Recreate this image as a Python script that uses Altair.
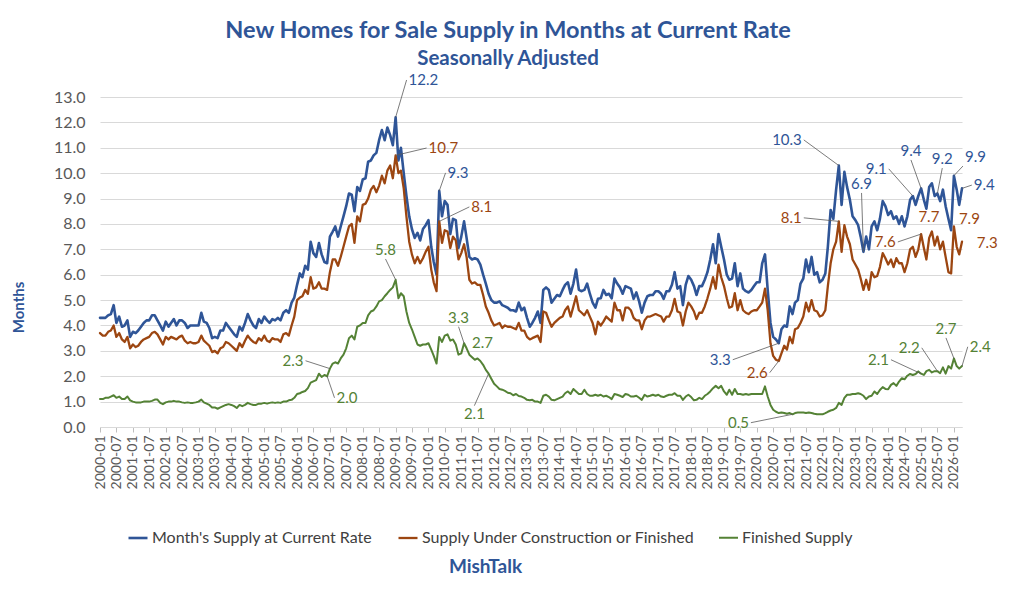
import altair as alt
import pandas as pd

FONT = "Lato"
TITLE_BLUE = "#2F5597"

SERIES = ["Month's Supply at Current Rate",
          "Supply Under Construction or Finished",
          "Finished Supply"]
COLORS = ["#2F5597", "#9C4611", "#548235"]
WIDTHS = [2.6, 2.0, 1.8]
START_MONTH = "2000-01-01T00:00:00"

TICK_LABELS = [
    "2000-01", "2000-07", "2001-01", "2001-07", "2002-01", "2002-07", "2003-01", "2003-07",
    "2004-01", "2004-07", "2005-01", "2005-07", "2006-01", "2006-07", "2007-01", "2007-07",
    "2008-01", "2008-07", "2009-01", "2009-07", "2010-01", "2010-07", "2011-01", "2011-07",
    "2012-01", "2012-07", "2013-01", "2013-07", "2014-01", "2014-07", "2015-01", "2015-07",
    "2016-01", "2016-07", "2017-01", "2017-07", "2018-01", "2018-07", "2019-01", "2019-07",
    "2020-01", "2020-07", "2021-01", "2021-07", "2022-01", "2022-07", "2023-01", "2023-07",
    "2024-01", "2024-07", "2025-01", "2025-07", "2026-01",
]
Y_TICKS = [0, 1, 2, 3, 4, 5, 6, 7, 8, 9, 10, 11, 12, 13]

# Monthly values, 2000-01 onward (one row per year)
SUPPLY_CURRENT_RATE = [
    4.3, 4.3, 4.3, 4.4, 4.45, 4.8, 4.1, 4.35, 3.95, 4.0, 4.2, 3.55,
    3.75, 3.7, 3.8, 3.95, 4.1, 4.2, 4.2, 4.4, 4.4, 4.2, 4.0, 3.8,
    4.15, 3.95, 4.1, 4.25, 4.0, 4.2, 4.2, 4.1, 3.9, 4.0, 4.0, 4.0,
    4.0, 4.5, 4.15, 4.1, 3.9, 3.5, 3.55, 3.5, 3.8, 3.8, 4.1, 3.95,
    3.8, 3.65, 3.55, 3.95, 3.8, 4.1, 4.45, 4.2, 4.0, 3.9, 4.25, 4.1,
    4.35, 4.2, 4.1, 4.25, 4.2, 4.3, 4.2, 4.5, 4.6, 4.5, 4.9, 5.1,
    5.6, 6.05, 5.9, 6.35, 6.2, 7.3, 6.85, 6.7, 7.25, 6.8, 6.5, 6.45,
    7.5, 7.7, 7.9, 7.5, 7.9, 8.3, 8.7, 9.2, 9.15, 8.5, 9.45, 9.3,
    9.75, 9.8, 10.45, 10.5, 10.7, 10.8, 11.3, 11.7, 11.3, 11.8, 11.5, 11.1,
    12.2, 10.5, 11.0, 10.0, 9.1, 8.3, 7.8, 7.45, 7.65, 7.35, 7.8, 7.95,
    8.15, 7.1, 6.5, 6.0, 9.3, 8.3, 8.9, 8.75, 7.6, 8.2, 8.15, 7.05,
    7.5, 8.1, 7.45, 6.7, 6.6, 6.65, 6.6, 6.4, 6.0, 5.65, 5.25, 5.0,
    4.9, 4.9, 4.95, 4.8, 4.75, 4.7, 4.6, 4.6, 4.55, 4.9, 4.6, 4.7,
    4.3, 3.95, 4.1, 4.3, 4.55, 4.1, 5.4, 5.5, 5.4, 4.9, 5.05, 5.2,
    5.15, 5.4, 5.6, 5.7, 5.25, 5.65, 6.2, 5.4, 5.35, 5.4, 5.65, 5.25,
    4.9, 4.7, 5.05, 5.07, 5.4, 5.2, 5.25, 5.07, 5.85, 5.65, 5.5, 5.25,
    5.55, 5.5, 5.45, 5.05, 5.3, 4.95, 4.5, 4.9, 5.15, 5.2, 5.2, 5.35,
    5.35, 5.25, 5.05, 5.35, 5.35, 5.6, 6.1, 5.45, 5.55, 4.8, 5.6, 5.95,
    5.8, 5.55, 5.2, 5.55, 5.55, 5.8, 6.1, 6.6, 7.2, 6.45, 7.6, 7.1,
    6.6, 6.0, 5.8, 5.85, 6.45, 5.55, 6.05, 5.45, 5.35, 5.3, 5.4, 5.55,
    5.7, 5.7, 6.45, 6.8, 5.4, 4.1, 3.55, 3.45, 3.3, 3.85, 4.0, 3.95,
    4.75, 4.45, 4.9, 5.0, 5.65, 5.85, 6.6, 6.1, 6.7, 6.0, 6.1, 5.7,
    5.8, 6.05, 7.1, 8.55, 8.2, 9.35, 10.3, 8.75, 10.05, 9.45, 8.95, 8.3,
    8.15, 7.95, 7.5, 6.9, 7.5, 7.0, 7.9, 8.1, 7.75, 8.2, 8.9, 8.7,
    8.35, 8.5, 8.2, 8.3, 8.0, 8.3, 7.9, 8.3, 8.95, 9.1, 8.75, 9.1,
    9.4, 8.95, 8.6, 9.45, 9.6, 9.1, 9.2, 8.9, 9.35, 8.7, 8.2, 7.75,
    9.9, 9.35, 8.75, 9.4,
]

SUPPLY_UNDER_CONSTRUCTION_OR_FINISHED = [
    3.7, 3.6, 3.6, 3.75, 3.8, 4.0, 3.55, 3.7, 3.45, 3.35, 3.55, 3.1,
    3.25, 3.15, 3.2, 3.35, 3.45, 3.5, 3.55, 3.7, 3.75, 3.65, 3.45, 3.25,
    3.55, 3.45, 3.55, 3.5, 3.45, 3.55, 3.6, 3.4, 3.3, 3.35, 3.3, 3.3,
    3.35, 3.6, 3.4, 3.3, 3.2, 2.95, 3.0, 2.9, 3.1, 3.15, 3.35, 3.3,
    3.2, 3.1, 3.0, 3.3, 3.15, 3.4, 3.6, 3.45, 3.35, 3.3, 3.5, 3.4,
    3.6, 3.4, 3.35, 3.5, 3.45, 3.45, 3.35, 3.65, 3.7, 3.6, 4.0, 4.35,
    5.0, 5.1, 5.15, 5.4, 5.25, 5.9, 5.45, 5.5, 5.7, 5.45, 5.45, 5.4,
    6.1, 6.6, 6.6, 6.35, 6.7, 7.1, 7.5, 7.9, 8.0, 7.25, 8.3, 8.1,
    8.75, 8.8, 9.0, 9.35, 9.5, 9.25, 9.5, 9.9, 9.6, 10.1, 10.3, 9.8,
    10.7, 10.0, 10.1, 9.4, 8.3, 7.3, 6.8, 6.45, 6.7, 6.45, 6.65, 6.9,
    7.1, 6.2, 5.7, 5.35, 8.1, 7.25, 7.75, 7.7, 7.05, 7.5, 7.35, 6.6,
    6.85, 7.2, 6.7, 5.8, 5.65, 5.7, 5.6, 5.6, 5.2, 4.75, 4.5, 4.2,
    4.0, 4.05, 4.1, 3.9, 4.0, 3.95, 3.95, 3.9, 3.85, 4.1, 3.8, 3.8,
    3.55, 3.45, 3.5, 3.55, 3.6, 3.35, 4.55, 4.5, 4.2, 3.95, 4.1, 4.2,
    4.3, 4.35, 4.6, 4.75, 4.35, 4.75, 5.15, 4.6, 4.5, 4.4, 4.6, 4.35,
    4.1, 3.65, 4.15, 4.0, 4.15, 4.35, 4.25, 4.15, 4.9, 4.6, 4.6, 4.2,
    4.7, 4.7, 4.6, 4.3, 4.2, 4.2, 3.85, 4.2, 4.35, 4.35, 4.4, 4.45,
    4.4, 4.35, 4.15, 4.35, 4.35, 4.6, 5.05, 4.55, 4.5, 4.0, 4.55, 4.9,
    4.75, 4.55, 4.25, 4.5, 4.5, 4.75, 5.07, 5.45, 5.9, 5.45, 6.4, 5.9,
    5.55, 5.07, 4.7, 4.75, 5.27, 4.6, 5.0, 4.6, 4.5, 4.45, 4.55, 4.6,
    4.6, 4.75, 4.9, 5.45, 4.6, 3.3, 2.8, 2.65, 2.6, 2.9, 3.2, 3.05,
    3.55, 3.3, 3.85, 3.9, 4.1, 4.35, 4.9, 4.55, 5.0, 4.6, 4.55, 4.35,
    4.4, 4.6, 5.55, 6.45, 7.0, 7.3, 8.1, 6.9, 7.95, 7.5, 7.2, 6.6,
    6.4, 6.2, 5.85, 5.4, 5.8, 5.4, 6.1, 5.9, 5.95, 6.3, 6.85, 6.65,
    6.4, 6.6, 6.3, 6.65, 6.45, 6.45, 6.1, 6.45, 7.0, 7.1, 6.7, 7.0,
    7.6, 7.05, 6.6, 7.45, 7.7, 7.15, 7.5, 7.0, 7.3, 6.7, 6.1, 6.05,
    7.9, 7.1, 6.8, 7.3,
]

SUPPLY_FINISHED = [
    1.1, 1.1, 1.15, 1.15, 1.2, 1.25, 1.15, 1.2, 1.1, 1.1, 1.2, 1.05,
    1.0, 0.97, 0.97, 0.97, 1.0, 1.0, 1.0, 1.03, 1.08, 1.08, 0.95, 0.9,
    0.97, 1.0, 1.0, 1.03, 1.0, 1.0, 0.97, 0.95, 0.97, 0.95, 0.95, 0.97,
    1.0, 1.08, 0.97, 0.92, 0.87, 0.77, 0.77, 0.72, 0.77, 0.82, 0.87, 0.9,
    0.87, 0.82, 0.75, 0.87, 0.82, 0.87, 0.95, 0.9, 0.87, 0.87, 0.92, 0.92,
    0.95, 0.92, 0.95, 0.97, 0.95, 0.97, 0.95, 1.0, 1.0, 1.05, 1.07, 1.15,
    1.3, 1.33, 1.38, 1.42, 1.53, 1.75, 1.8, 1.85, 2.1, 1.97, 2.05, 2.0,
    2.3, 2.5, 2.55, 2.5, 2.7, 2.85, 3.1, 3.5, 3.6, 3.45, 3.95, 4.0,
    4.1, 4.1, 4.4, 4.55, 4.6, 4.75, 4.95, 5.0, 5.15, 5.27, 5.4, 5.5,
    5.8, 5.07, 5.27, 5.15, 4.55, 4.1, 3.85, 3.55, 3.25, 3.2, 3.25, 3.25,
    3.3, 3.05, 2.8, 2.5, 3.55, 3.35, 3.6, 3.65, 3.4, 3.45, 3.25, 2.85,
    2.9, 3.3, 3.1, 2.85, 2.75, 2.65, 2.7, 2.6, 2.45, 2.25, 2.1, 1.9,
    1.7, 1.6, 1.5, 1.47, 1.42, 1.35, 1.33, 1.25, 1.3, 1.22, 1.2, 1.15,
    1.07, 1.05, 1.07, 1.0, 1.0, 0.95, 1.23, 1.27, 1.2, 1.07, 1.05, 1.1,
    1.15, 1.2, 1.33, 1.4, 1.3, 1.5, 1.4, 1.3, 1.3, 1.47, 1.3, 1.23,
    1.23, 1.27, 1.23, 1.27, 1.2, 1.23, 1.18, 1.1, 1.3, 1.27, 1.23, 1.18,
    1.3, 1.27, 1.2, 1.2, 1.23, 1.15, 1.07, 1.27, 1.2, 1.23, 1.27, 1.23,
    1.27, 1.2, 1.18, 1.23, 1.27, 1.27, 1.33, 1.23, 1.23, 1.07, 1.2, 1.27,
    1.18, 1.05, 1.07, 1.15, 1.1, 1.23, 1.3, 1.4, 1.53, 1.62, 1.53, 1.62,
    1.4, 1.27, 1.47, 1.27, 1.5, 1.3, 1.3, 1.27, 1.3, 1.27, 1.3, 1.3,
    1.3, 1.3, 1.3, 1.6, 1.2, 0.87, 0.68, 0.6, 0.55, 0.57, 0.55, 0.52,
    0.55, 0.5, 0.55, 0.57, 0.57, 0.57, 0.55, 0.57, 0.55, 0.52, 0.5, 0.5,
    0.5, 0.55, 0.6, 0.65, 0.68, 0.75, 0.95, 0.87, 1.15, 1.27, 1.27, 1.3,
    1.3, 1.33, 1.3, 1.23, 1.1, 1.2, 1.23, 1.4, 1.3, 1.46, 1.57, 1.5,
    1.49, 1.66, 1.73, 1.62, 1.79, 1.92, 1.88, 2.02, 2.09, 2.05, 2.09, 2.19,
    2.1, 2.05, 2.2, 2.25, 2.15, 2.2, 2.2, 2.12, 2.35, 2.1, 2.4, 2.3,
    2.7, 2.4, 2.3, 2.4,
]

# Labelled points: (series index, month index counted from 2000-01)
ANNOT_POINTS = [
    (0, 108), (1, 108), (0, 124), (1, 124), (2, 108), (2, 84), (2, 83),
    (2, 133), (2, 138), (2, 142), (0, 270), (1, 270), (0, 248), (1, 248),
    (2, 253), (0, 279), (0, 297), (0, 300), (0, 306), (0, 312), (0, 315),
    (1, 304), (1, 300), (1, 312), (1, 315), (2, 300), (2, 306), (2, 312),
    (2, 315),
]
# Label placement: (months offset, value offset, align, baseline, leader line)
ANNOT_PLACE = [
    (4.0, 1.47, "left", "middle", True),
    (11.3, 0.29, "left", "middle", True),
    (2.3, 0.71, "left", "middle", True),
    (11.0, 0.57, "left", "middle", True),
    (-3.7, 0.82, "center", "bottom", True),
    (-8.9, 0.31, "right", "middle", True),
    (2.7, -0.85, "left", "middle", True),
    (-2.0, 0.65, "center", "bottom", True),
    (1.8, 0.26, "center", "bottom", False),
    (-5.2, -1.26, "center", "top", True),
    (-12.8, 1.01, "right", "middle", True),
    (-12.8, 0.14, "right", "middle", True),
    (-16.8, -0.65, "right", "middle", True),
    (-3.3, -0.46, "right", "middle", True),
    (-15.2, -0.33, "right", "middle", True),
    (-0.7, 2.32, "center", "bottom", True),
    (-8.8, 1.07, "right", "middle", True),
    (-3.7, 1.12, "center", "bottom", True),
    (1.8, 1.0, "center", "bottom", True),
    (3.3, 0.38, "left", "bottom", True),
    (3.6, 0.13, "left", "middle", True),
    (-1.1, 0.22, "center", "bottom", False),
    (-8.5, -0.31, "right", "middle", True),
    (1.1, 0.3, "left", "middle", False),
    (4.7, -0.05, "left", "middle", False),
    (-11.0, 0.55, "right", "middle", True),
    (-5.7, 0.92, "right", "middle", True),
    (-2.9, 0.81, "center", "bottom", True),
    (2.1, 0.76, "left", "middle", True),
]

VALUES = [SUPPLY_CURRENT_RATE, SUPPLY_UNDER_CONSTRUCTION_OR_FINISHED, SUPPLY_FINISHED]
n_months = len(SUPPLY_CURRENT_RATE)
dates = pd.date_range(START_MONTH, periods=n_months, freq="MS")

rows = []
for name, vals in zip(SERIES, VALUES):
    for d, v in zip(dates, vals):
        rows.append({"date": d, "series": name, "value": v})
df = pd.DataFrame(rows)

# annotation table: "date"/"value" = label anchor, "pdate"/"pvalue" = the data point
arows = []
for (si, mi), (dm, dv, align, base, leader) in zip(ANNOT_POINTS, ANNOT_PLACE):
    v = VALUES[si][mi]
    d = dates[mi]
    arows.append({
        "pdate": d, "pvalue": v, "label": v,
        "date": d + pd.Timedelta(days=dm * 30.44),
        "value": v + dv,
        "tcolor": COLORS[si], "align": align, "base": base, "leader": leader,
    })
adf = pd.DataFrame(arows)

x_domain = [alt.DateTime(year=int(dates[0].year), month=int(dates[0].month), date=1),
            alt.DateTime(year=int(dates[-1].year), month=int(dates[-1].month), date=1)]
tick_values = [alt.DateTime(year=int(s[:4]), month=int(s[5:]), date=1) for s in TICK_LABELS]

x_enc = alt.X(
    "date:T",
    scale=alt.Scale(domain=x_domain),
    axis=alt.Axis(
        title="MishTalk", values=tick_values, format="%Y-%m",
        labelAngle=270, labelAlign="right", labelBaseline="middle",
        labelFont=FONT, labelFontSize=14, labelColor="#595959", labelPadding=3,
        labelOverlap=False, labelFlush=False,
        tickSize=5, tickColor="#BFBFBF", domainColor="#D9D9D9", grid=False,
        titleFont=FONT, titleFontSize=19, titleFontWeight="bold", titleColor=TITLE_BLUE,
        titleX=385, titleY=139, titleBaseline="middle", titleAlign="center",
    ),
)
y_enc = alt.Y(
    "value:Q",
    scale=alt.Scale(domain=[0, 13], nice=False),
    axis=alt.Axis(
        title="Months", values=Y_TICKS, format=".1f", labelOverlap=False,
        labelFont=FONT, labelFontSize=16, labelColor="#595959", labelPadding=15,
        domain=False, ticks=False, grid=True, gridColor="#D9D9D9", gridWidth=1,
        titleFont=FONT, titleFontSize=15, titleFontWeight="bold", titleColor=TITLE_BLUE,
        titleAngle=270, titleX=-82, titleY=210, titleBaseline="middle", titleAlign="center",
    ),
)

lines = alt.Chart(df).mark_line(strokeJoin="round", strokeCap="round").encode(
    color=alt.Color(
        "series:N", sort=SERIES,
        scale=alt.Scale(domain=SERIES, range=COLORS),
        legend=alt.Legend(
            title=None, orient="none", legendX=27, legendY=430, direction="horizontal",
            symbolType="stroke", symbolSize=361, symbolStrokeWidth=2.5,
            labelFont=FONT, labelFontSize=16, labelColor="#404040", labelLimit=500,
            labelOffset=3, columnPadding=20, padding=0,
        ),
    ),
    strokeWidth=alt.StrokeWidth("series:N", scale=alt.Scale(domain=SERIES, range=WIDTHS), legend=None),
    order=alt.Order("date:T"),
)

leaders = alt.Chart(adf).transform_filter("datum.leader").mark_rule(
    color="#595959", strokeWidth=0.8
).encode(x2="pdate:T", y2="pvalue:Q")

texts = []
for align in ["left", "right", "center"]:
    for base in ["middle", "bottom", "top"]:
        sub = adf[(adf["align"] == align) & (adf["base"] == base)]
        if len(sub) == 0:
            continue
        dx = 2 if align == "left" else (-2 if align == "right" else 0)
        dy = -1 if base == "bottom" else (1 if base == "top" else 0)
        texts.append(
            alt.Chart(sub).mark_text(
                align=align, baseline=base, dx=dx, dy=dy, font=FONT, fontSize=15
            ).encode(
                text=alt.Text("label:Q", format=".1f"),
                color=alt.Color("tcolor:N", scale=None),
            )
        )

chart = alt.layer(lines, leaders, *texts).encode(
    x=x_enc, y=y_enc
).properties(
    width=862, height=330,
    title=alt.TitleParams(
        text="New Homes for Sale Supply in Months at Current Rate",
        subtitle="Seasonally Adjusted",
        font=FONT, fontSize=23.5, fontWeight="bold", color=TITLE_BLUE,
        subtitleFont=FONT, subtitleFontSize=20.5, subtitleFontWeight="bold",
        subtitleColor=TITLE_BLUE, subtitlePadding=7, offset=3,
        anchor="middle", frame="group", dx=-23,
    ),
    padding={"left": 92, "top": 89, "right": 54, "bottom": 170},
    autosize=alt.AutoSizeParams(type="none"),
).configure_view(stroke=None)

chart.save("out.html", embed_options={"renderer": "svg", "actions": False})
